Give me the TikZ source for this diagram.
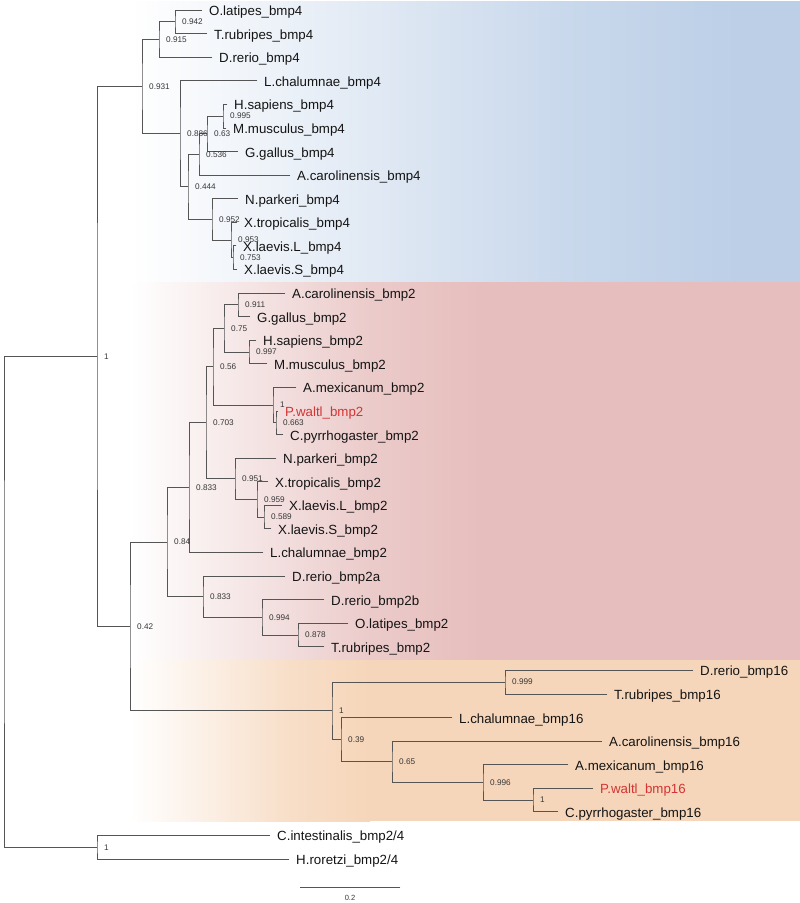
\documentclass[tikz,border=0pt]{standalone}
\usepackage{fontspec}
\setmainfont{Liberation Sans}
\usetikzlibrary{calc}
\definecolor{bluebg}{RGB}{188,207,231}
\definecolor{pinkbg}{RGB}{230,190,189}
\definecolor{peachbg}{RGB}{246,214,186}
\definecolor{redlbl}{RGB}{212,52,52}
\definecolor{branchc}{RGB}{85,85,85}
\definecolor{suptext}{RGB}{55,55,55}
\definecolor{leafc}{RGB}{20,20,20}
\tikzset{
  br/.style={draw=branchc, line width=0.8pt, line cap=rect},
  leaf/.style={anchor=base west, xshift=7pt, yshift=-5.5pt, inner sep=0pt, text=leafc, font=\fontsize{13.3}{16}\selectfont},
  redl/.style={text=redlbl},
  suplab/.style={anchor=west, xshift=7pt, inner sep=0pt, text=suptext, font=\fontsize{8.2}{9}\selectfont},
  scalelab/.style={inner sep=0pt, text=suptext, font=\fontsize{7.5}{9}\selectfont}
}
\newcommand\tipn[5][]{\coordinate (#2) at (#3,{10+23.583*#4}); \node[leaf,#1] (#2l) at (#2) {#5};}
\newcommand\inode[4]{\coordinate (#1-mid) at ($(#3)!0.5!(#4)$); \coordinate (#1) at (#2,0 |- #1-mid); \draw[br] (#3) -| (#1) |- (#4);}
\newcommand\supl[2]{\node[suplab] (#1-s) at (#1) {#2};}
% band: colour, top, bottom, x where 80% reached, x where full reached
\newcommand\band[5]{%
  \fill[#1] (130,#2) rectangle (800,#3);
  \shade[left color=white, right color=#1!80!white] (130,#2) rectangle (#4,#3);
  \shade[left color=#1!80!white, right color=#1] (#4,#2) rectangle (#5,#3);}
\begin{document}
\begin{tikzpicture}[x=1pt,y=-1pt]
\useasboundingbox (0,0) rectangle (800,903);
% backgrounds
\band{bluebg}{1}{282}{560}{740}
\band{pinkbg}{282}{660}{370}{480}
\band{peachbg}{660}{821}{290}{370}
% tips
\tipn{t0}{202}{0}{O.latipes\_bmp4}
\tipn{t1}{207}{1}{T.rubripes\_bmp4}
\tipn{t2}{212}{2}{D.rerio\_bmp4}
\tipn{t3}{257}{3}{L.chalumnae\_bmp4}
\tipn{t4}{227}{4}{H.sapiens\_bmp4}
\tipn{t5}{226}{5}{M.musculus\_bmp4}
\tipn{t6}{238}{6}{G.gallus\_bmp4}
\tipn{t7}{290}{7}{A.carolinensis\_bmp4}
\tipn{t8}{238}{8}{N.parkeri\_bmp4}
\tipn{t9}{237}{9}{X.tropicalis\_bmp4}
\tipn{t10}{236}{10}{X.laevis.L\_bmp4}
\tipn{t11}{237}{11}{X.laevis.S\_bmp4}
\tipn{t12}{285}{12}{A.carolinensis\_bmp2}
\tipn{t13}{250}{13}{G.gallus\_bmp2}
\tipn{t14}{256}{14}{H.sapiens\_bmp2}
\tipn{t15}{267}{15}{M.musculus\_bmp2}
\tipn{t16}{296}{16}{A.mexicanum\_bmp2}
\tipn[redl]{t17}{278}{17}{P.waltl\_bmp2}
\tipn{t18}{283}{18}{C.pyrrhogaster\_bmp2}
\tipn{t19}{276}{19}{N.parkeri\_bmp2}
\tipn{t20}{268}{20}{X.tropicalis\_bmp2}
\tipn{t21}{282}{21}{X.laevis.L\_bmp2}
\tipn{t22}{271}{22}{X.laevis.S\_bmp2}
\tipn{t23}{263}{23}{L.chalumnae\_bmp2}
\tipn{t24}{285}{24}{D.rerio\_bmp2a}
\tipn{t25}{324}{25}{D.rerio\_bmp2b}
\tipn{t26}{348}{26}{O.latipes\_bmp2}
\tipn{t27}{324}{27}{T.rubripes\_bmp2}
\tipn{t28}{693}{28}{D.rerio\_bmp16}
\tipn{t29}{607}{29}{T.rubripes\_bmp16}
\tipn{t30}{452}{30}{L.chalumnae\_bmp16}
\tipn{t31}{602}{31}{A.carolinensis\_bmp16}
\tipn{t32}{568}{32}{A.mexicanum\_bmp16}
\tipn[redl]{t33}{593}{33}{P.waltl\_bmp16}
\tipn{t34}{558}{34}{C.pyrrhogaster\_bmp16}
\tipn{t35}{270}{35}{C.intestinalis\_bmp2/4}
\tipn{t36}{289}{36}{H.roretzi\_bmp2/4}
% bmp4 clade
\inode{n942}{175}{t0}{t1}
\inode{n915}{159}{n942}{t2}
\inode{n995}{223}{t4}{t5}
\inode{n63}{207}{n995}{t6}
\inode{n536}{199}{n63}{t7}
\inode{n753}{233}{t10}{t11}
\inode{n953}{231}{t9}{n753}
\inode{n952}{212}{t8}{n953}
\inode{n444}{188}{n536}{n952}
\inode{n886}{180}{t3}{n444}
\inode{n931}{142}{n915}{n886}
% bmp2 clade
\inode{n911}{238}{t12}{t13}
\inode{n997}{249}{t14}{t15}
\inode{n75}{224}{n911}{n997}
\inode{nPC}{276}{t17}{t18}
\inode{nAx}{273}{t16}{nPC}
\inode{n56}{213}{n75}{nAx}
\inode{n589}{264}{t21}{t22}
\inode{n959}{257}{t20}{n589}
\inode{n951}{235}{t19}{n959}
\inode{n703}{206}{n56}{n951}
\inode{n833a}{189}{n703}{t23}
\inode{n878}{298}{t26}{t27}
\inode{n994}{262}{t25}{n878}
\inode{n833b}{203}{t24}{n994}
\inode{n84}{167}{n833a}{n833b}
% bmp16 clade
\inode{n999}{505}{t28}{t29}
\inode{n1c}{533}{t33}{t34}
\inode{n996}{483}{t32}{n1c}
\inode{n65}{392}{t31}{n996}
\inode{n39}{341}{t30}{n65}
\inode{n1b}{332}{n999}{n39}
\inode{n42}{130}{n84}{n1b}
% upper levels
\inode{nA}{97}{n931}{n42}
\inode{ntun}{97}{t35}{t36}
\inode{root}{4}{nA}{ntun}
% support labels
\supl{n942}{0.942}
\supl{n915}{0.915}
\supl{n931}{0.931}
\supl{n886}{0.886}
\supl{n995}{0.995}
\supl{n63}{0.63}
\supl{n536}{0.536}
\supl{n444}{0.444}
\supl{n952}{0.952}
\supl{n953}{0.953}
\supl{n753}{0.753}
\supl{n911}{0.911}
\supl{n75}{0.75}
\supl{n997}{0.997}
\supl{n56}{0.56}
\supl{nAx}{1}
\supl{nPC}{0.663}
\supl{n703}{0.703}
\supl{n951}{0.951}
\supl{n959}{0.959}
\supl{n589}{0.589}
\supl{n833a}{0.833}
\supl{n84}{0.84}
\supl{n833b}{0.833}
\supl{n994}{0.994}
\supl{n878}{0.878}
\supl{n42}{0.42}
\supl{n1b}{1}
\supl{n999}{0.999}
\supl{n39}{0.39}
\supl{n65}{0.65}
\supl{n996}{0.996}
\supl{n1c}{1}
\supl{nA}{1}
\supl{ntun}{1}
% scale bar
\coordinate (sb1) at (300,887);
\coordinate (sb2) at (400,887);
\draw[br] (sb1) -- (sb2);
\node[scalelab] (sbl) at (350,898) {0.2};
\end{tikzpicture}
\end{document}
